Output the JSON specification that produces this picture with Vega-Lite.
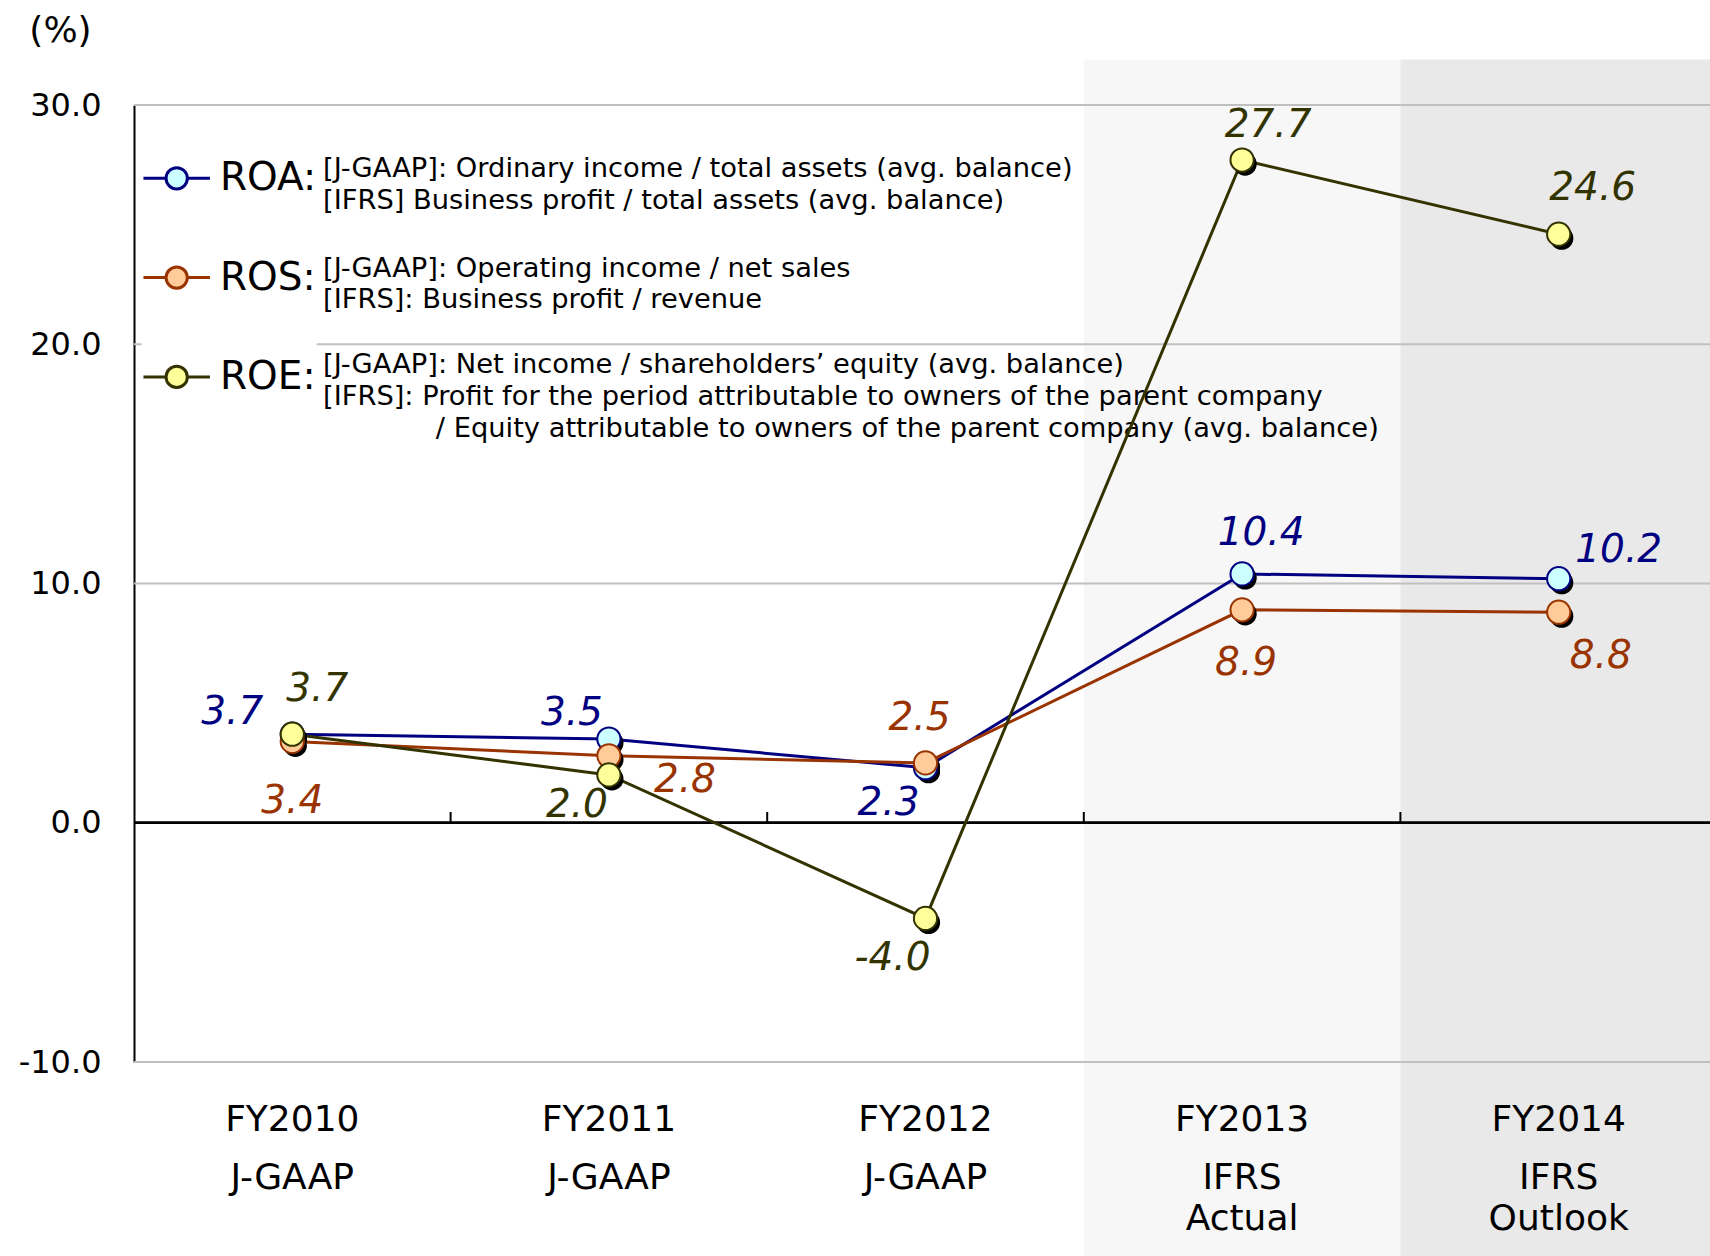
{
  "$schema": "https://vega.github.io/schema/vega-lite/v6.json",
  "width": 1576,
  "height": 957,
  "autosize": {"type": "none"},
  "padding": {"left": 134, "top": 105, "right": 0, "bottom": 194},
  "background": "white",
  "datasets": {
    "series": [
      {"metric": "ROA", "period": "FY2010", "value": 3.7},
      {"metric": "ROA", "period": "FY2011", "value": 3.5},
      {"metric": "ROA", "period": "FY2012", "value": 2.3},
      {"metric": "ROA", "period": "FY2013", "value": 10.4},
      {"metric": "ROA", "period": "FY2014", "value": 10.2},
      {"metric": "ROS", "period": "FY2010", "value": 3.4},
      {"metric": "ROS", "period": "FY2011", "value": 2.8},
      {"metric": "ROS", "period": "FY2012", "value": 2.5},
      {"metric": "ROS", "period": "FY2013", "value": 8.9},
      {"metric": "ROS", "period": "FY2014", "value": 8.8},
      {"metric": "ROE", "period": "FY2010", "value": 3.7},
      {"metric": "ROE", "period": "FY2011", "value": 2.0},
      {"metric": "ROE", "period": "FY2012", "value": -4.0},
      {"metric": "ROE", "period": "FY2013", "value": 27.7},
      {"metric": "ROE", "period": "FY2014", "value": 24.6}
    ],
    "periods": [
      {"period": "FY2010", "standard": "J-GAAP", "status": ""},
      {"period": "FY2011", "standard": "J-GAAP", "status": ""},
      {"period": "FY2012", "standard": "J-GAAP", "status": ""},
      {"period": "FY2013", "standard": "IFRS", "status": "Actual"},
      {"period": "FY2014", "standard": "IFRS", "status": "Outlook"}
    ],
    "gridlines": [{"level": -10}, {"level": 10}, {"level": 20}, {"level": 30}],
    "notes": [
      {"metric": "ROA", "note": "[J-GAAP]: Ordinary income / total assets (avg. balance)\n[IFRS] Business profit / total assets (avg. balance)"},
      {"metric": "ROS", "note": "[J-GAAP]: Operating income / net sales\n[IFRS]: Business profit / revenue"},
      {"metric": "ROE", "note": "[J-GAAP]: Net income / shareholders’ equity (avg. balance)\n[IFRS]: Profit for the period attributable to owners of the parent company\n\u200b\u00a0\u00a0\u00a0\u00a0\u00a0\u00a0\u00a0\u00a0\u00a0\u00a0\u00a0\u00a0\u00a0/ Equity attributable to owners of the parent company (avg. balance)"}
    ]
  },
  "layer": [
    {
      "data": {"name": "periods"},
      "transform": [{"filter": "datum.status !== ''"}],
      "mark": {"type": "rect"},
      "encoding": {
        "x": {"field": "period", "type": "nominal", "title": null},
        "y": {"datum": 31.9},
        "y2": {"datum": -18.3},
        "fill": {"condition": {"test": "datum.status === 'Actual'", "value": "#F7F7F7"}, "value": "#E9E9E9"}
      }
    },
    {
      "data": {"name": "gridlines"},
      "mark": {"type": "rule", "color": "#C0C0C0", "strokeWidth": 2},
      "encoding": {"y": {"field": "level", "type": "quantitative"}}
    },
    {
      "data": {"name": "periods"},
      "mark": {"type": "rule", "color": "black", "strokeWidth": 2},
      "encoding": {"y": {"datum": 0}}
    },
    {
      "data": {"name": "periods"},
      "transform": [{"filter": "datum.period !== 'FY2010'"}],
      "mark": {"type": "rule", "color": "black", "strokeWidth": 2},
      "encoding": {
        "x": {"field": "period", "type": "nominal", "bandPosition": 0},
        "y": {"datum": 0},
        "y2": {"datum": 0.45}
      }
    },
    {
      "data": {"name": "notes"},
      "transform": [{"filter": "datum.metric === 'ROA'"}],
      "mark": {"type": "text", "align": "left", "baseline": "top", "fontSize": 27.3, "lineHeight": 31.6, "lineBreak": "\n", "color": "black"},
      "encoding": {
        "x": {"datum": "FY2010", "bandPosition": 0.597},
        "y": {"datum": 27.89},
        "text": {"field": "note"}
      }
    },
    {
      "data": {"name": "notes"},
      "transform": [{"filter": "datum.metric === 'ROS'"}],
      "mark": {"type": "text", "align": "left", "baseline": "top", "fontSize": 27.3, "lineHeight": 31.6, "lineBreak": "\n", "color": "black"},
      "encoding": {
        "x": {"datum": "FY2010", "bandPosition": 0.597},
        "y": {"datum": 23.75},
        "text": {"field": "note"}
      }
    },
    {
      "data": {"name": "notes"},
      "transform": [{"filter": "datum.metric === 'ROE'"}],
      "mark": {"type": "text", "align": "left", "baseline": "top", "fontSize": 27.3, "lineHeight": 31.6, "lineBreak": "\n", "color": "black"},
      "encoding": {
        "x": {"datum": "FY2010", "bandPosition": 0.597},
        "y": {"datum": 19.7},
        "text": {"field": "note"}
      }
    },
    {
      "data": {"name": "series"},
      "mark": {"type": "line", "strokeWidth": 3},
      "encoding": {
        "x": {"field": "period", "type": "nominal", "bandPosition": 0.5, "title": null,
              "scale": {"type": "band", "paddingInner": 0, "paddingOuter": 0, "range": [0, 1583]}},
        "y": {"field": "value", "type": "quantitative", "title": "(%)",
              "scale": {"domain": [-10, 30], "nice": false, "zero": false},
              "axis": {"values": [-10, 0, 10, 20, 30], "format": ".1f"}},
        "stroke": {"field": "metric", "type": "nominal", "sort": ["ROA", "ROS", "ROE"],
                   "scale": {"domain": ["ROA", "ROS", "ROE"], "range": ["#000080", "#993300", "#333300"]},
                   "legend": {"title": null, "orient": "none", "legendX": 7.7, "legendY": 38.3, "padding": 0,
                              "symbolType": "M-1,0L-0.32,0M0.32,0L1,0M0.32,0A0.32,0.32,0,1,1,-0.32,0A0.32,0.32,0,1,1,0.32,0Z",
                              "symbolSize": 4422, "symbolStrokeWidth": 3, "symbolOpacity": 1,
                              "labelFontSize": 39, "labelColor": "black", "labelOffset": 8.3, "labelLimit": 0,
                              "rowPadding": 44.3, "fillColor": "white", "labelExpr": "datum.label + ':'", "direction": "vertical"}},
        "detail": {"field": "metric"}
      }
    },
    {
      "data": {"name": "series"},
      "mark": {"type": "circle", "size": 540, "color": "black", "opacity": 1, "xOffset": 3, "yOffset": 4},
      "encoding": {
        "x": {"field": "period", "type": "nominal", "bandPosition": 0.5},
        "y": {"field": "value", "type": "quantitative"}
      }
    },
    {
      "data": {"name": "series"},
      "mark": {"type": "point", "filled": true, "size": 540, "strokeWidth": 2, "opacity": 1},
      "encoding": {
        "x": {"field": "period", "type": "nominal", "bandPosition": 0.5},
        "y": {"field": "value", "type": "quantitative"},
        "fill": {"field": "metric", "type": "nominal",
                 "scale": {"domain": ["ROA", "ROS", "ROE"], "range": ["#CCFFFF", "#FFCC99", "#FFFF99"]},
                 "legend": {"title": null, "orient": "none", "legendX": 7.7, "legendY": 38.3, "padding": 0,
                              "symbolType": "M-1,0L-0.32,0M0.32,0L1,0M0.32,0A0.32,0.32,0,1,1,-0.32,0A0.32,0.32,0,1,1,0.32,0Z",
                              "symbolSize": 4422, "symbolStrokeWidth": 3, "symbolOpacity": 1,
                              "labelFontSize": 39, "labelColor": "black", "labelOffset": 8.3, "labelLimit": 0,
                              "rowPadding": 44.3, "fillColor": "white", "labelExpr": "datum.label + ':'", "direction": "vertical"}},
        "stroke": {"field": "metric", "type": "nominal"}
      }
    },
    {
      "data": {"name": "series"},
      "mark": {"type": "text", "fontSize": 39, "fontStyle": "italic", "align": "center", "baseline": "middle",
               "dx": {"expr": "(datum.metric === 'ROA' ? [-60, -37, -37, 19, 60] : datum.metric === 'ROS' ? [0, 76, -6, 4, 42] : [25, -32, -33, 26, 34])[indexof(['FY2010','FY2011','FY2012','FY2013','FY2014'], datum.period)]"},
               "dy": {"expr": "(datum.metric === 'ROA' ? [-22.5, -26.5, 35.5, -40.5, -28.5] : datum.metric === 'ROS' ? [59.5, 24, -45, 53, 44] : [-45.5, 30.5, 39.5, -35.5, -46])[indexof(['FY2010','FY2011','FY2012','FY2013','FY2014'], datum.period)]"}},
      "encoding": {
        "x": {"field": "period", "type": "nominal", "bandPosition": 0.5},
        "y": {"field": "value", "type": "quantitative"},
        "text": {"field": "value", "type": "quantitative", "format": ".1f"},
        "color": {"condition": [{"test": "datum.metric === 'ROA'", "value": "#000080"}, {"test": "datum.metric === 'ROS'", "value": "#993300"}], "value": "#333300"}
      }
    },
    {
      "data": {"name": "periods"},
      "mark": {"type": "text", "fontSize": 36, "align": "center", "baseline": "top", "color": "black"},
      "encoding": {
        "x": {"field": "period", "type": "nominal", "bandPosition": 0.5},
        "y": {"datum": -14.125},
        "text": {"field": "standard"}
      }
    },
    {
      "data": {"name": "periods"},
      "transform": [{"filter": "datum.status !== ''"}],
      "mark": {"type": "text", "fontSize": 36, "align": "center", "baseline": "top", "color": "black"},
      "encoding": {
        "x": {"field": "period", "type": "nominal", "bandPosition": 0.5},
        "y": {"datum": -15.84},
        "text": {"field": "status"}
      }
    }
  ],
  "config": {
    "font": "DejaVu Sans",
    "view": {"stroke": null},
    "locale": {"number": {"decimal": ".", "thousands": ",", "grouping": [3], "currency": ["$", ""], "minus": "-"}},
    "axisX": {"domain": false, "ticks": false, "grid": false, "labelFontSize": 36, "labelPadding": 57, "labelBaseline": "middle", "labelColor": "black", "labelAngle": 0},
    "axisY": {"grid": false, "ticks": false, "domainColor": "black", "domainWidth": 2, "labelFontSize": 32, "labelColor": "black", "labelPadding": 33,
              "titleFontSize": 36, "titleFontWeight": "normal", "titleColor": "black", "titleAngle": 0, "titleX": -74, "titleY": -75, "titleAlign": "center", "titleBaseline": "middle"}
  }
}
